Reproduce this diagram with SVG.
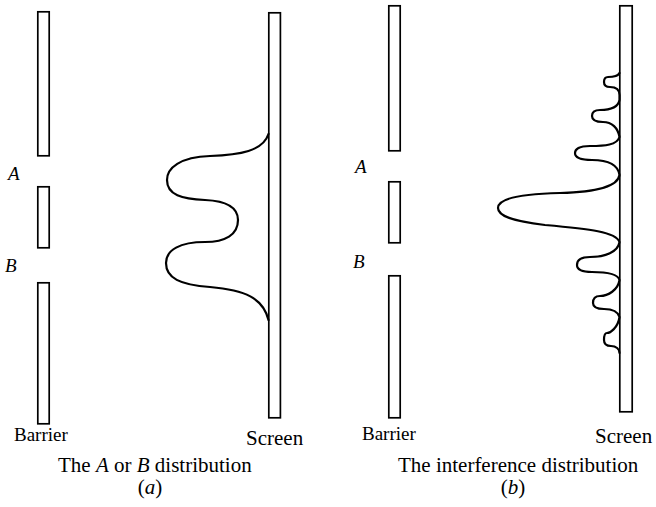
<svg xmlns="http://www.w3.org/2000/svg" width="656" height="507" viewBox="0 0 656 507">
<style>
.bar{fill:#fff;stroke:#000;stroke-width:1.7}
.curve{fill:none;stroke:#000;stroke-width:2.2;stroke-linecap:round;stroke-linejoin:round}
text{font-family:"Liberation Serif","Times New Roman",serif;fill:#000}
.lbl{font-size:19px;font-style:italic}
.name{font-size:19px}
.scr{font-size:21px}
.cap{font-size:21px}
.it{font-style:italic}
</style>
<rect width="656" height="507" fill="#fff"/>
<g id="panel-a">
  <g id="barrier-a">
    <rect class="bar" x="37.8" y="11.8" width="11.4" height="144"/>
    <rect class="bar" x="37.8" y="186.8" width="11.4" height="61"/>
    <rect class="bar" x="37.8" y="282.8" width="11.4" height="141"/>
  </g>
  <g id="screen-a">
    <rect class="bar" x="268.8" y="12.8" width="11.6" height="405"/>
  </g>
  <g id="curve-a">
    <path class="curve" d="M268.5,134 C263,151 240,155 210,156 C180,157 167,168 167,180 C167,195 182,199 205,200 C228,201 238,208 238,220 C238,235 225,242 205,242 C180,242 166,250 166,263 C166,278 180,285 210,287 C245,290 263,298 268.5,320"/>
  </g>
  <text class="lbl" x="8" y="180">A</text>
  <text class="lbl" x="5" y="272">B</text>
  <text class="name" x="14" y="441">Barrier</text>
  <text class="scr" x="246" y="445">Screen</text>
  <text class="cap" x="58" y="472">The <tspan class="it">A</tspan> or <tspan class="it">B</tspan> distribution</text>
  <text class="cap" x="150" y="494" text-anchor="middle">(<tspan class="it">a</tspan>)</text>
</g>
<g id="panel-b">
  <g id="barrier-b">
    <rect class="bar" x="388.8" y="5.8" width="11.4" height="145"/>
    <rect class="bar" x="388.8" y="181.8" width="11.4" height="61"/>
    <rect class="bar" x="388.8" y="275.8" width="11.4" height="142"/>
  </g>
  <g id="screen-b">
    <rect class="bar" x="619.8" y="5.8" width="12.4" height="406"/>
  </g>
  <g id="curve-b">
    <path class="curve" d="M619.5,73 C618,76 612,77 608,77 C605,77 604,79 604,82 C604,85 606,87 610,87 C616,87 619.5,90 619.5,95 L619.5,100 C618,108 608,110 600,110 C593,110 592,113 592,116 C592,120 596,122 603,122 C612,122 618,128 619.5,137 C617,145 605,146 590,146 C578,146 575,150 575,153 C575,157 580,160 592,160 C608,160 618,165 619.5,175 C618,186 600,192 560,193 C515,194 498,200 498,208 C498,216 512,221 545,225 C590,229 616,232 619.5,242 C618,252 605,257 590,257 C579,257 577,261 577,265 C577,269 581,272 592,272 C608,272 618,274 619.5,280 C618,290 608,296 600,296 C594,296 593,300 593,303 C593,307 597,309 604,309 C613,309 618,312 619.5,317 C618,328 610,333 607,333 C604,333 604,337 604,340 C604,344 607,346 611,346 C616,346 619.5,349 619.5,353"/>
  </g>
  <text class="lbl" x="355" y="173">A</text>
  <text class="lbl" x="353" y="268">B</text>
  <text class="name" x="362" y="440">Barrier</text>
  <text class="scr" x="595" y="443">Screen</text>
  <text class="cap" x="398" y="472">The interference distribution</text>
  <text class="cap" x="513" y="494" text-anchor="middle">(<tspan class="it">b</tspan>)</text>
</g>
</svg>
